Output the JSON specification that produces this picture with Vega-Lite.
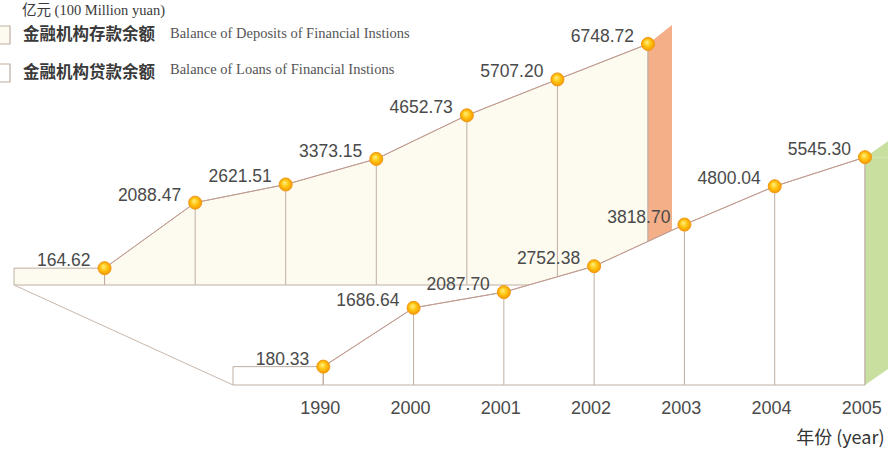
{
  "$schema": "https://vega.github.io/schema/vega-lite/v6.json",
  "width": 888,
  "height": 450,
  "autosize": "none",
  "padding": 0,
  "background": "#FFFFFF",
  "config": {"view": {"stroke": null}, "font": "Liberation Sans"},
  "title": {
    "text": "亿元 (100 Million yuan)",
    "anchor": "start",
    "frame": "group",
    "orient": "top",
    "offset": 0,
    "dx": 22,
    "dy": 25,
    "baseline": "middle",
    "font": "Liberation Serif, Noto Sans CJK SC",
    "fontSize": 14.5,
    "fontWeight": "normal",
    "color": "#3a3a3a"
  },
  "data": {
    "values": [
      {"series": "金融机构存款余额", "series_en": "Balance of Deposits of Financial Instions", "year": "1990", "value": 164.62},
      {"series": "金融机构存款余额", "series_en": "Balance of Deposits of Financial Instions", "year": "2000", "value": 2088.47},
      {"series": "金融机构存款余额", "series_en": "Balance of Deposits of Financial Instions", "year": "2001", "value": 2621.51},
      {"series": "金融机构存款余额", "series_en": "Balance of Deposits of Financial Instions", "year": "2002", "value": 3373.15},
      {"series": "金融机构存款余额", "series_en": "Balance of Deposits of Financial Instions", "year": "2003", "value": 4652.73},
      {"series": "金融机构存款余额", "series_en": "Balance of Deposits of Financial Instions", "year": "2004", "value": 5707.20},
      {"series": "金融机构存款余额", "series_en": "Balance of Deposits of Financial Instions", "year": "2005", "value": 6748.72},
      {"series": "金融机构贷款余额", "series_en": "Balance of Loans of Financial Instions", "year": "1990", "value": 180.33},
      {"series": "金融机构贷款余额", "series_en": "Balance of Loans of Financial Instions", "year": "2000", "value": 1686.64},
      {"series": "金融机构贷款余额", "series_en": "Balance of Loans of Financial Instions", "year": "2001", "value": 2087.70},
      {"series": "金融机构贷款余额", "series_en": "Balance of Loans of Financial Instions", "year": "2002", "value": 2752.38},
      {"series": "金融机构贷款余额", "series_en": "Balance of Loans of Financial Instions", "year": "2003", "value": 3818.70},
      {"series": "金融机构贷款余额", "series_en": "Balance of Loans of Financial Instions", "year": "2004", "value": 4800.04},
      {"series": "金融机构贷款余额", "series_en": "Balance of Loans of Financial Instions", "year": "2005", "value": 5545.30}
    ]
  },
  "resolve": {"scale": {"x": "independent", "y": "independent"}, "axis": {"x": "independent", "y": "independent"}},
  "layer": [
    {
      "transform": [{"filter": "datum.series == '金融机构存款余额'"}],
      "encoding": {
        "x": {"field": "year", "type": "ordinal", "bandPosition": 1,
              "scale": {"type": "band", "domain": ["1990", "2000", "2001", "2002", "2003", "2004", "2005"], "range": [14, 648], "paddingInner": 0, "paddingOuter": 0},
              "axis": null},
        "y": {"field": "value", "type": "quantitative",
              "scale": {"domain": [-330, 7000], "range": [285, 35.4], "zero": false, "nice": false},
              "axis": null}
      },
      "layer": [
        {
          "transform": [{"filter": "datum.year == '1990'"}],
          "mark": {"type": "bar", "stroke": "#BFAEA2", "strokeWidth": 1, "width": {"band": 1}},
          "encoding": {
            "x": {"field": "year", "type": "ordinal"},
            "y2": {"datum": -330},
            "fill": {"field": "series", "type": "nominal",
                     "scale": {"domain": ["金融机构存款余额", "金融机构贷款余额"], "range": ["#FDFBF0", "#FFFFFF"]},
                     "legend": {"orient": "none", "legendX": -9, "legendY": 25, "title": null, "symbolType": "square", "symbolSize": 324,
                                "symbolStrokeColor": "#DCC6B2", "symbolStrokeWidth": 1.2, "labelFont": "Noto Sans CJK SC", "labelFontWeight": "bold",
                                "labelFontSize": 16.5, "labelColor": "#3a3a3a", "labelOffset": 12, "rowPadding": 14, "labelLimit": 300}}
          }
        },
        {
          "mark": {"type": "area", "stroke": "#BFAEA2", "strokeWidth": 1},
          "encoding": {
            "y2": {"datum": -330},
            "fill": {"field": "series", "type": "nominal"}
          }
        },
        {
          "transform": [{"filter": "datum.year == '2005'"}],
          "mark": {"type": "rule", "stroke": "#F4AE88", "strokeWidth": 24, "strokeCap": "butt", "xOffset": 12, "y2Offset": -19},
          "encoding": {"y2": {"datum": -330}}
        },
        {
          "transform": [{"filter": "datum.year == '2005'"}],
          "mark": {"type": "point", "shape": "M0,0L24,-19L24,0Z", "size": 4, "filled": true, "fill": "#F4AE88", "strokeWidth": 0, "opacity": 1}
        },
        {
          "transform": [{"filter": "datum.year == '2005'"}],
          "mark": {"type": "point", "shape": "M0,0L0,-19L24,-19Z", "size": 4, "filled": true, "fill": "#F4AE88", "strokeWidth": 0, "opacity": 1},
          "encoding": {"y": {"datum": -330}}
        },
        {
          "mark": {"type": "rule", "stroke": "#BFAEA2", "strokeWidth": 1},
          "encoding": {"y2": {"datum": -330}}
        },
        {
          "mark": {"type": "line", "strokeWidth": 1},
          "encoding": {
            "stroke": {"field": "series_en", "type": "nominal",
                       "scale": {"domain": ["Balance of Deposits of Financial Instions", "Balance of Loans of Financial Instions"], "range": ["#C39A8F", "#C39A8F"]},
                       "legend": {"orient": "none", "legendX": 152, "legendY": 25, "title": null, "symbolType": "square", "symbolSize": 324,
                                  "symbolOpacity": 0, "symbolStrokeWidth": 0, "labelFont": "Liberation Serif", "labelFontSize": 14.5,
                                  "labelColor": "#555555", "labelOffset": 0, "rowPadding": 18, "labelLimit": 400}}
          }
        },
        {
          "mark": {"type": "point", "filled": true, "size": 170, "opacity": 1, "stroke": "#F29A14", "strokeWidth": 1,
                   "fill": {"gradient": "radial", "x1": 0.4, "y1": 0.35, "r1": 0, "x2": 0.5, "y2": 0.5, "r2": 0.55,
                            "stops": [{"offset": 0, "color": "#FFF38A"}, {"offset": 0.5, "color": "#FFC510"}, {"offset": 1, "color": "#F39200"}]}}
        },
        {
          "mark": {"type": "text", "align": "right", "baseline": "middle", "dx": -14, "dy": -7, "fontSize": 17.5, "font": "Liberation Sans", "fill": "#4a4a4a"},
          "encoding": {"text": {"field": "value", "type": "quantitative", "format": ".2f"}}
        }
      ]
    },
    {
      "transform": [{"filter": "datum.series == '金融机构贷款余额'"}],
      "encoding": {
        "x": {"field": "year", "type": "ordinal", "bandPosition": 1,
              "scale": {"type": "band", "domain": ["1990", "2000", "2001", "2002", "2003", "2004", "2005"], "range": [233, 865], "paddingInner": 0, "paddingOuter": 0},
              "axis": {"orient": "bottom", "offset": -54, "domain": false, "ticks": false, "grid": false, "labelAngle": 0, "labelPadding": 3,
                       "labelOffset": 42, "labelFont": "Liberation Sans", "labelFontSize": 18, "labelColor": "#4a4a4a",
                       "title": "年份 (year)", "titleFont": "Noto Sans CJK SC", "titleFontSize": 18, "titleFontWeight": "normal", "titleColor": "#333333",
                       "titleAnchor": "end", "titleAlign": "right", "titleX": 884, "titleY": 42, "titleBaseline": "middle"}},
        "y": {"field": "value", "type": "quantitative",
              "scale": {"domain": [-290, 6500], "range": [385, 119.9], "zero": false, "nice": false},
              "axis": null}
      },
      "layer": [
        {
          "transform": [{"filter": "datum.year == '1990'"}],
          "mark": {"type": "bar", "stroke": "#BFAEA2", "strokeWidth": 1, "width": {"band": 1}},
          "encoding": {
            "x": {"field": "year", "type": "ordinal"},
            "y2": {"datum": -290},
            "fill": {"field": "series", "type": "nominal"}
          }
        },
        {
          "mark": {"type": "area", "stroke": "#BFAEA2", "strokeWidth": 1},
          "encoding": {
            "y2": {"datum": -290},
            "fill": {"field": "series", "type": "nominal"}
          }
        },
        {
          "transform": [{"filter": "datum.year == '1990'"}],
          "mark": {"type": "rule", "stroke": "#C9B7AA", "strokeWidth": 1, "x2Offset": -219, "y2Offset": -100},
          "encoding": {
            "x": {"field": "year", "type": "ordinal", "bandPosition": 0},
            "x2": {"field": "year", "bandPosition": 0},
            "y": {"datum": -290},
            "y2": {"datum": -290}
          }
        },
        {
          "transform": [{"filter": "datum.year == '2005'"}],
          "mark": {"type": "rule", "stroke": "#C8DFA0", "strokeWidth": 23, "strokeCap": "butt", "xOffset": 11.5, "y2Offset": -16},
          "encoding": {"y2": {"datum": -290}}
        },
        {
          "transform": [{"filter": "datum.year == '2005'"}],
          "mark": {"type": "point", "shape": "M0,0L23,-16L23,0Z", "size": 4, "filled": true, "fill": "#C8DFA0", "strokeWidth": 0, "opacity": 1}
        },
        {
          "transform": [{"filter": "datum.year == '2005'"}],
          "mark": {"type": "point", "shape": "M0,0L0,-16L23,-16Z", "size": 4, "filled": true, "fill": "#C8DFA0", "strokeWidth": 0, "opacity": 1},
          "encoding": {"y": {"datum": -290}}
        },
        {
          "mark": {"type": "rule", "stroke": "#BFAEA2", "strokeWidth": 1},
          "encoding": {"y2": {"datum": -290}}
        },
        {
          "mark": {"type": "line", "strokeWidth": 1},
          "encoding": {"stroke": {"field": "series_en", "type": "nominal"}}
        },
        {
          "mark": {"type": "point", "filled": true, "size": 170, "opacity": 1, "stroke": "#F29A14", "strokeWidth": 1,
                   "fill": {"gradient": "radial", "x1": 0.4, "y1": 0.35, "r1": 0, "x2": 0.5, "y2": 0.5, "r2": 0.55,
                            "stops": [{"offset": 0, "color": "#FFF38A"}, {"offset": 0.5, "color": "#FFC510"}, {"offset": 1, "color": "#F39200"}]}}
        },
        {
          "mark": {"type": "text", "align": "right", "baseline": "middle", "dx": -14, "dy": -7, "fontSize": 17.5, "font": "Liberation Sans", "fill": "#4a4a4a"},
          "encoding": {"text": {"field": "value", "type": "quantitative", "format": ".2f"}}
        }
      ]
    }
  ]
}
